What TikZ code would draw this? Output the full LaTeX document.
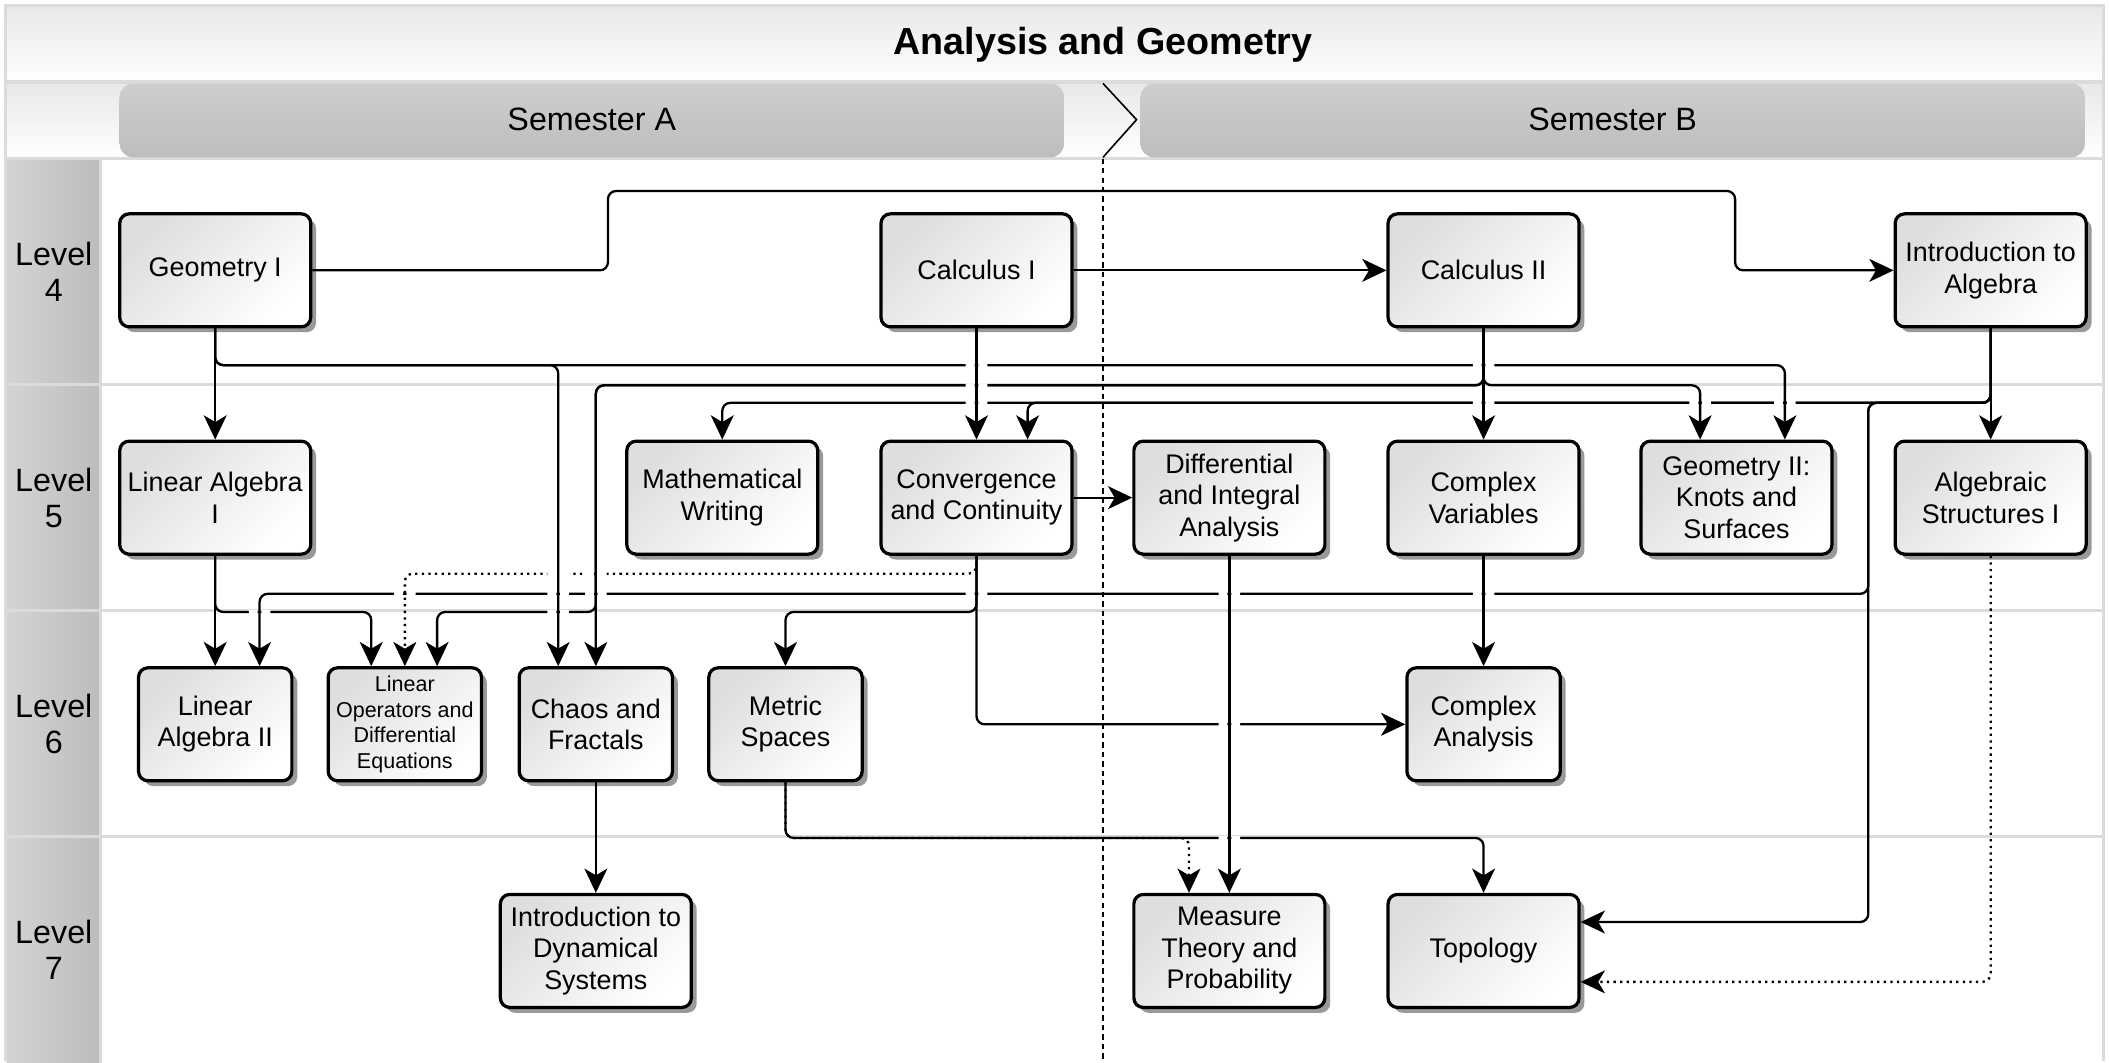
\documentclass[tikz,border=0pt]{standalone}
\usepackage{fontspec}
\setmainfont{Liberation Sans}
\usetikzlibrary{arrows.meta}
\usetikzlibrary{shadows}
\newcommand{\hop}[2]{\fill[white] (#1-8,#2-1.5) rectangle (#1-1.4,#2+1.5) (#1+1.4,#2-1.5) rectangle (#1+8,#2+1.5);}

\begin{document}
\begin{tikzpicture}
[x=0.5pt,y=-0.5pt,%
  course/.style={shape=rectangle,rounded corners=3.5pt,draw,line width=1.2pt,
    minimum width=71pt,minimum height=42pt,align=center,inner sep=1pt,
    font=\fontsize{10pt}{11.7pt}\selectfont,
    top color=black!13,bottom color=white,shading angle=45,
    drop shadow={shadow xshift=2pt,shadow yshift=-2pt,fill=black!40,opacity=1}},%
  narrow/.style={course,minimum width=57pt},%
  prereq/.style={-{Stealth[length=9pt,width=8.5pt,inset=2.5pt]},line width=0.85pt,rounded corners=3pt},%
  coreq/.style={prereq,dash pattern=on 0.85pt off 1.6pt},%
  level/.style={align=center,font=\fontsize{12pt}{13.5pt}\selectfont},%
  lane/.style={draw=black!14,line width=1.2pt}]
\useasboundingbox (0,0) rectangle (1568,790);
% lanes
\shade[top color=black!9,bottom color=white] (5,5) rectangle (1563,61);
\shade[top color=black!9,bottom color=white] (5,61) rectangle (1563,118);
\shade[left color=black!17,right color=black!26] (5,119) rectangle (74,285);
\shade[left color=black!17,right color=black!26] (5,287) rectangle (74,453);
\shade[left color=black!17,right color=black!26] (5,455) rectangle (74,621);
\shade[left color=black!17,right color=black!26] (5,623) rectangle (74,790);
\draw[lane] (5,61) -- (1563,61);
\draw[lane] (5,118) -- (1563,118);
\draw[lane] (5,286) -- (1563,286);
\draw[lane] (5,454) -- (1563,454);
\draw[lane] (5,622) -- (1563,622);
\draw[lane] (75,118) -- (75,790);
\draw[lane] (4,789) -- (4,4) -- (1564,4) -- (1564,789);
\shade[rounded corners=5pt,top color=black!19,bottom color=black!26] (89,62) rectangle (791,117);
\shade[rounded corners=5pt,top color=black!19,bottom color=black!26] (848,62) rectangle (1550,117);
\node[font=\bfseries\fontsize{14pt}{16pt}\selectfont] (title) at (820,33) {Analysis and Geometry};
\node[level] (semA) at (440,89) {Semester A};
\node[level] (semB) at (1199,89) {Semester B};
\draw[line width=0.6pt] (820,62) -- (845,89) -- (820,117);
\draw[dash pattern=on 2pt off 1.5pt,line width=0.7pt] (820,118) -- (820,790);
\node[level] (lev4) at (40,202) {Level\\4};
\node[level] (lev5) at (40,370) {Level\\5};
\node[level] (lev6) at (40,538) {Level\\6};
\node[level] (lev7) at (40,706) {Level\\7};
% level 4
\node[course] (geo1) at (160,201) {Geometry I};
\node[course] (cal1) at (726,201) {Calculus I};
\node[course] (cal2) at (1103,201) {Calculus II};
\node[course] (introalg) at (1480,201) {Introduction to\\Algebra};
% level 5
\node[course] (linalg1) at (160,370) {Linear Algebra\\I};
\node[course] (mathw) at (537,370) {Mathematical\\Writing};
\node[course] (conv) at (726,370) {Convergence\\and Continuity};
\node[course] (diffint) at (914,370) {Differential\\and Integral\\Analysis};
\node[course] (cv) at (1103,370) {Complex\\Variables};
\node[course] (geo2) at (1291,370) {Geometry II:\\Knots and\\Surfaces};
\node[course] (algstr) at (1480,370) {Algebraic\\Structures I};
% level 6
\node[narrow] (linalg2) at (160,538.5) {Linear\\Algebra II};
\node[narrow,font=\fontsize{8pt}{9.5pt}\selectfont] (linop) at (301,538.5) {Linear\\Operators and\\Differential\\Equations};
\node[narrow] (chaos) at (443,538.5) {Chaos and\\Fractals};
\node[narrow] (metric) at (584,538.5) {Metric\\Spaces};
\node[narrow] (cxan) at (1103,538.5) {Complex\\Analysis};
% level 7
\node[course] (introdyn) at (443,707) {Introduction to\\Dynamical\\Systems};
\node[course] (measure) at (914,707) {Measure\\Theory and\\Probability};
\node[course] (topology) at (1103,707) {Topology};
% prerequisites
\draw[prereq] (geo1.east) -- (452,201) -- (452,142) -- (1290,142) -- (1290,201) -- (introalg.west);
\draw[prereq] (geo1.south) -- (linalg1.north);
\draw[prereq] (geo1.south) -- (160,271.5) -- (415,271.5) -- (415,0 |- chaos.north);
\draw[prereq] (geo1.south) -- (160,271.5) -- (1327,271.5) -- (1327,0 |- geo2.north);
\draw[prereq] (cal1.east) -- (cal2.west);
\draw[prereq] (cal1.south) -- (conv.north);
\draw[prereq] (cal2.south) -- (cv.north);
\draw[prereq] (cal2.south) -- (1103,286.5) -- (chaos.north |- 0,286.5) -- (chaos.north);
\draw[prereq] (cal2.south) -- (1103,286.5) -- (443,286.5) -- (443,455) -- (325,455) -- (325,0 |- linop.north);
\draw[prereq] (cal2.south) -- (1103,286.5) -- (1264,286.5) -- (1264,0 |- geo2.north);
\draw[prereq] (introalg.south) -- (algstr.north);
\draw[prereq] (introalg.south) -- (1480,299.5) -- (mathw.north |- 0,299.5) -- (mathw.north);
\draw[prereq] (introalg.south) -- (1480,299.5) -- (764,299.5) -- (764,0 |- conv.north);
\draw[prereq] (introalg.south) -- (1480,299.5) -- (1389,299.5) -- (1389,441.5) -- (193,441.5) -- (193,0 |- linalg2.north);
\draw[prereq] (introalg.south) -- (1480,299.5) -- (1389,299.5) -- (1389,685.5) -- (topology.east |- 0,685.5);
\draw[prereq] (linalg1.south) -- (linalg2.north);
\draw[prereq] (linalg1.south) -- (160,455) -- (276,455) -- (276,0 |- linop.north);
\draw[prereq] (conv.east) -- (diffint.west);
\draw[prereq] (conv.south) -- (conv.south |- cxan.west) -- (cxan.west);
\draw[prereq] (conv.south) -- (726,455) -- (metric.north |- 0,455) -- (metric.north);
\draw[coreq] (conv.south) -- (726,426.5) -- (linop.north |- 0,426.5) -- (linop.north);
\draw[prereq] (diffint.south) -- (measure.north);
\draw[prereq] (cv.south) -- (cxan.north);
\draw[prereq] (chaos.south) -- (introdyn.north);
\draw[prereq] (metric.south) -- (584,623) -- (topology.north |- 0,623) -- (topology.north);
\draw[coreq] (metric.south) -- (584,623) -- (884,623) -- (884,0 |- measure.north);
\draw[coreq] (algstr.south) -- (1480,730) -- (topology.east |- 0,730);
% line jumps
\hop{726}{271.5} \hop{1103}{271.5}
\hop{726}{286.5}
\hop{726}{299.5} \hop{1103}{299.5} \hop{1264}{299.5} \hop{1327}{299.5}
\hop{415}{426.5} \hop{443}{426.5}
\hop{301}{441.5} \hop{415}{441.5} \hop{443}{441.5} \hop{726}{441.5} \hop{914}{441.5} \hop{1103}{441.5}
\hop{193}{455} \hop{415}{455}
\hop{914}{538.5}
\hop{914}{623}
\end{tikzpicture}
\end{document}
